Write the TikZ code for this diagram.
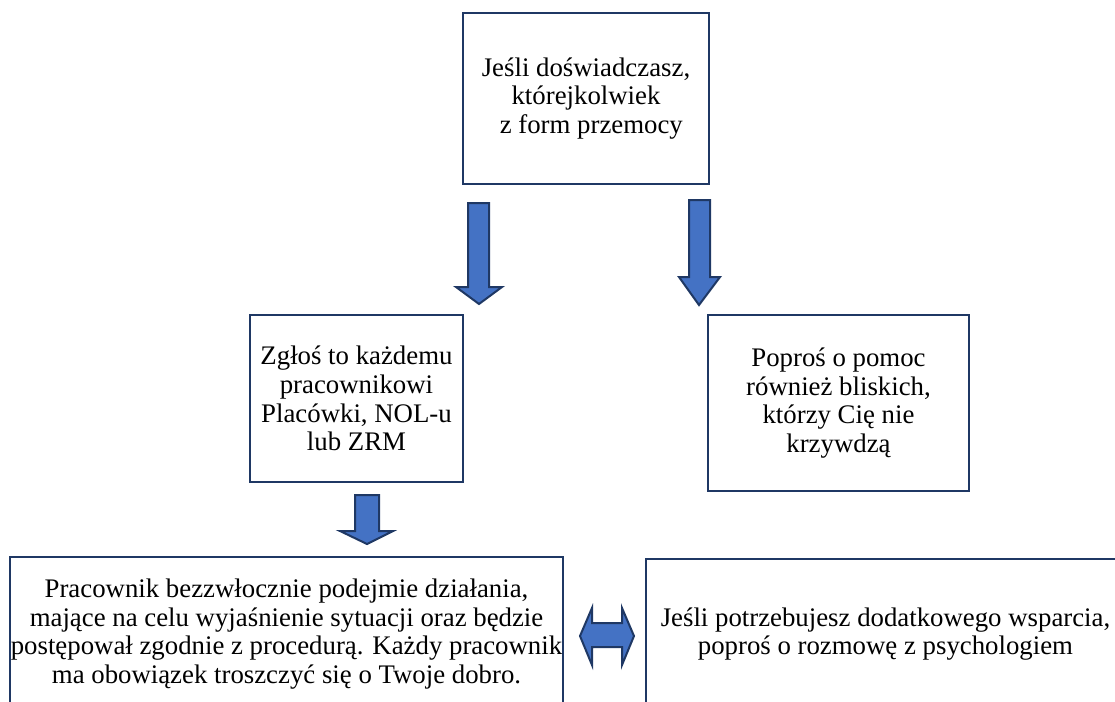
\documentclass[tikz,border=0pt]{standalone}
\usepackage{fontspec}
\setmainfont{Liberation Serif}
\definecolor{frame}{HTML}{1F3864}
\definecolor{arrowblue}{HTML}{4472C4}
\begin{document}
\begin{tikzpicture}[x=0.5pt, y=-0.5pt,
    box/.style = {draw=frame, line width=1pt, align=center, inner sep=0pt,
                  font=\fontsize{13.4}{14.4}\selectfont},
    blockarr/.style = {fill=arrowblue, draw=frame, line width=1pt}]
    \useasboundingbox (0,0) rectangle (1115,702);
    \clip (0,0) rectangle (1115,702);

    \node[box, minimum width=123pt, minimum height=85.5pt] (start) at (586,98.5)
        {Jeśli doświadczasz,\\którejkolwiek\\\hspace*{0.4em}z form przemocy};
    \node[box, minimum width=106.5pt, minimum height=83.5pt] (zglos) at (356.5,398.5)
        {Zgłoś to każdemu\\pracownikowi\\Placówki, NOL-u\\lub ZRM};
    \node[box, minimum width=130.5pt, minimum height=88pt] (bliscy) at (838.5,403)
        {Poproś o pomoc\\również bliskich,\\którzy Cię nie\\krzywdzą};
    \node[box, minimum width=276.5pt, minimum height=77pt] (pracownik) at (286.5,634)
        {Pracownik bezzwłocznie podejmie działania,\\mające na celu wyjaśnienie sytuacji oraz będzie\\postępował zgodnie z procedurą. Każdy pracownik\\ma obowiązek troszczyć się o Twoje dobro.};
    \node[box, minimum width=239.5pt, minimum height=75pt] (psycholog) at (885.5,634)
        {Jeśli potrzebujesz dodatkowego wsparcia,\\poproś o rozmowę z psychologiem};

    % strzalki w dol
    \draw[blockarr] (468,203) -- (489,203) -- (489,287) -- (502,287) -- (479,304)
        -- (456,287) -- (468,287) -- cycle;
    \draw[blockarr] (689,200) -- (710,200) -- (710,277) -- (720,277) -- (699,305)
        -- (679,277) -- (689,277) -- cycle;
    \draw[blockarr] (355,495) -- (379,495) -- (379,531) -- (393,531) -- (367,544)
        -- (340,531) -- (355,531) -- cycle;

    % strzalka w obie strony
    \draw[blockarr] (580,636) -- (592,608) -- (592,623) -- (622,623) -- (622,608)
        -- (634,636) -- (622,665) -- (622,647) -- (592,647) -- (592,665) -- cycle;
\end{tikzpicture}
\end{document}
